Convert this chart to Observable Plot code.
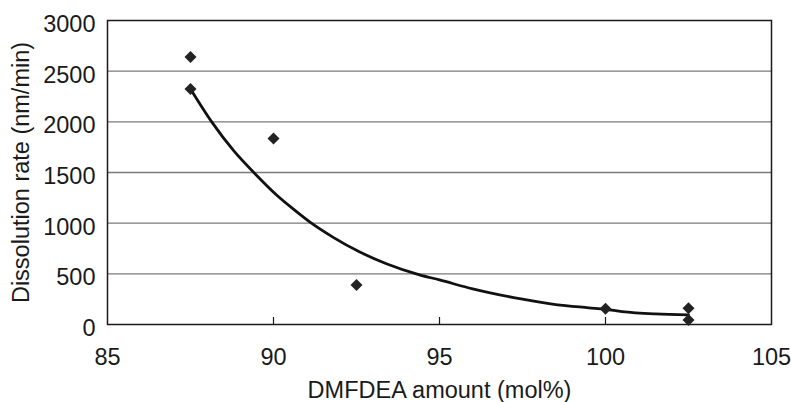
<!DOCTYPE html>
<html>
<head>
<meta charset="utf-8">
<script src="https://cdn.jsdelivr.net/npm/d3@7"></script>
<script src="https://cdn.jsdelivr.net/npm/@observablehq/plot@0.6"></script>
<style>
  html, body { margin: 0; padding: 0; background: #fff; }
  #chart svg { display: block; }
</style>
</head>
<body>
<div id="chart"></div>
<script>
// Measured points
const amount = [87.5, 87.5, 90, 92.5, 100, 102.5, 102.5];
const rate   = [2640, 2325, 1835, 390, 155, 160, 45];

// Trend curve
const curveAmount = [87.5, 88.15, 88.8, 89.45, 90.1, 90.6, 91.1, 91.8, 92.6, 93.4, 94.4, 95.0, 96.0, 97.5, 98.5, 99.5, 100.0, 100.5, 101.5, 102.5];
const curveRate   = [2325, 1995, 1715, 1485, 1275, 1138, 1010, 860, 715, 600, 490, 440, 352, 250, 197, 165, 150, 128, 105, 95];

const xTicks = [85, 90, 95, 100, 105];
const xInnerTicks = [90, 95, 100];
const yTicks = [0, 500, 1000, 1500, 2000, 2500, 3000];
const yGrid = [500, 1000, 1500, 2000, 2500];

const points = amount.map((a, i) => ({x: a, y: rate[i]}));
const curve = curveAmount.map((a, i) => ({x: a, y: curveRate[i]}));

const font = "'Liberation Sans', Arial, Helvetica, sans-serif";

const chart = Plot.plot({
  width: 791,
  height: 402,
  marginLeft: 107,
  marginRight: 20,
  marginTop: 20,
  marginBottom: 78,
  style: {fontFamily: font, fontSize: "23.5px", color: "#1a1a1a", background: "#fff"},
  x: {domain: [85, 105]},
  y: {domain: [0, 3000]},
  marks: [
    Plot.ruleY(yGrid, {stroke: "#7a7a7a", strokeWidth: 1.3}),
    Plot.ruleX(xInnerTicks, {y1: 0, y2: 0, insetBottom: 7, stroke: "#1a1a1a", strokeWidth: 1.2}),
    Plot.frame({stroke: "#1a1a1a", strokeWidth: 1.5}),
    Plot.axisY({ticks: yTicks, tickFormat: d3.format("d"), tickSize: 0, tickPadding: 12, dy: 4, fontSize: 23.5,
      label: "Dissolution rate (nm/min)", labelAnchor: "center", labelArrow: "none", labelOffset: 95}),
    Plot.axisX({ticks: xTicks, tickFormat: d3.format("d"), tickSize: 0, tickPadding: 24, fontSize: 23.5,
      label: "DMFDEA amount (mol%)", labelAnchor: "center", labelArrow: "none", labelOffset: 73}),
    Plot.line(curve, {x: "x", y: "y", stroke: "#111", strokeWidth: 2.8, curve: "monotone-x"}),
    Plot.dot(points, {x: "x", y: "y", symbol: "diamond2", r: 5.4, fill: "#222", stroke: "none"})
  ]
});

document.getElementById("chart").appendChild(chart);
</script>
</body>
</html>
